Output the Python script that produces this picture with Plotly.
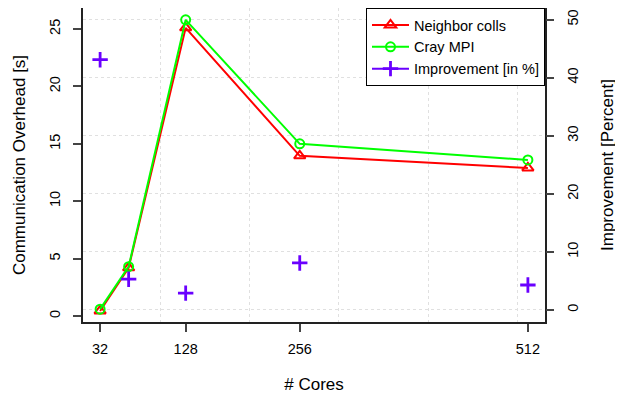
import plotly.graph_objects as go

cores = [32, 64, 128, 256, 512]
neighbor_colls = [0.44, 4.2, 25.1, 13.95, 12.9]
cray_mpi = [0.6, 4.3, 25.8, 15.0, 13.6]
improvement = [43.1, 5.3, 2.9, 8.1, 4.3]
x_ticks = [32, 128, 256, 512]
x_grid = [100, 200, 300, 400, 500]
left_ticks = [0, 5, 10, 15, 20, 25]
right_ticks = [0, 10, 20, 30, 40, 50]

RED = "#FF0000"
GREEN = "#00FF00"
PURPLE = "#6A00FF"
FONT = "Liberation Sans, Arial, sans-serif"
FS = 14.5

fig = go.Figure()
fig.add_trace(go.Scatter(
    x=cores, y=neighbor_colls, name="Neighbor colls", mode="lines+markers",
    line=dict(color=RED, width=2),
    marker=dict(symbol="triangle-up-open", size=10, color=RED, line=dict(width=2, color=RED)),
    xaxis="x", yaxis="y"))
fig.add_trace(go.Scatter(
    x=cores, y=cray_mpi, name="Cray MPI", mode="lines+markers",
    line=dict(color=GREEN, width=2),
    marker=dict(symbol="circle-open", size=9, color=GREEN, line=dict(width=2, color=GREEN)),
    xaxis="x", yaxis="y"))
fig.add_trace(go.Scatter(
    x=cores, y=improvement, name="Improvement [in %]", mode="markers", showlegend=False,
    marker=dict(symbol="cross-thin-open", size=11, color=PURPLE, line=dict(width=2.8, color=PURPLE)),
    xaxis="x2", yaxis="y2"))
# legend entry for the improvement series (line + cross as in the original legend)
fig.add_trace(go.Scatter(
    x=[None], y=[None], name="Improvement [in %]", mode="lines+markers",
    line=dict(color=PURPLE, width=2),
    marker=dict(symbol="cross-thin-open", size=11, color=PURPLE, line=dict(width=2.8, color=PURPLE)),
    xaxis="x2", yaxis="y2"))

xr = [12.8, 531.2]
fig.update_layout(
    width=615, height=386,
    margin=dict(l=75, r=78, t=0, b=72, autoexpand=False),
    plot_bgcolor="white", paper_bgcolor="white",
    font=dict(family=FONT, size=FS, color="black"),
    showlegend=True,
    legend=dict(x=1, y=1, xanchor="right", yanchor="top",
                bordercolor="black", borderwidth=1, bgcolor="white",
                font=dict(size=FS), tracegroupgap=0, itemwidth=37),
    xaxis=dict(range=xr, tickvals=x_ticks, ticktext=[str(v) for v in x_ticks],
               ticks="outside", ticklen=8, tickwidth=1.5, tickcolor="#444",
               ticklabelstandoff=5,
               showgrid=False, zeroline=False, automargin=False,
               showline=True, linecolor="#222", linewidth=2, mirror=True,
               title=dict(text="# Cores", standoff=23), tickfont=dict(size=FS)),
    xaxis2=dict(range=xr, overlaying="x", anchor="y2", tickvals=x_grid,
                showticklabels=False, ticks="", showgrid=True, automargin=False,
                gridcolor="#e0e0e0", griddash="dot", gridwidth=1, zeroline=False,
                showline=False),
    yaxis=dict(range=[-0.52, 26.83], tickvals=left_ticks, tickangle=-90,
               ticks="outside", ticklen=8, tickwidth=1.5, tickcolor="#444",
               ticklabelstandoff=7,
               showgrid=False, zeroline=False, automargin=False,
               showline=True, linecolor="#222", linewidth=2, mirror=True,
               title=dict(text="Communication Overhead [s]", standoff=17),
               tickfont=dict(size=FS)),
    yaxis2=dict(range=[-2.07, 52.0], tickvals=right_ticks, tickangle=-90,
                overlaying="y", side="right", anchor="x2", automargin=False,
                ticks="outside", ticklen=8, tickwidth=1.5, tickcolor="#444",
                ticklabelstandoff=7,
                showgrid=True, gridcolor="#e0e0e0", griddash="dot", gridwidth=1,
                zeroline=False, showline=False,
                title=dict(text="Improvement [Percent]", standoff=20),
                tickfont=dict(size=FS)),
)

fig.write_html("out.html")
